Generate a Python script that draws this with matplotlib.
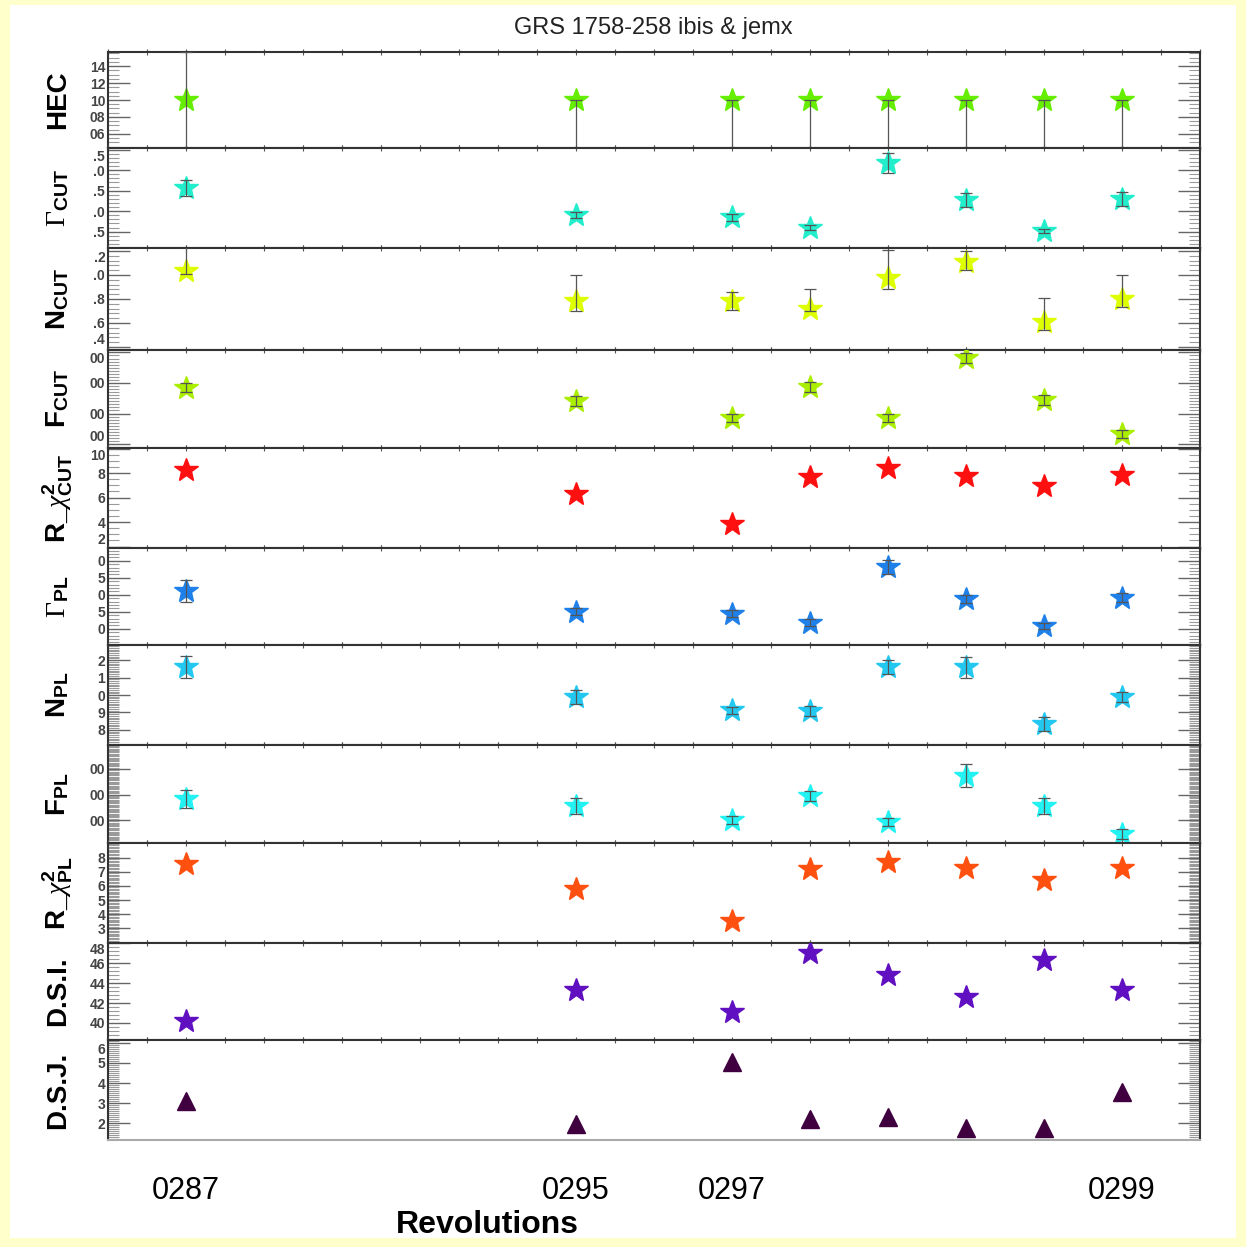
import matplotlib
matplotlib.use("Agg")
import matplotlib.pyplot as plt
from matplotlib.patches import Rectangle
from matplotlib.ticker import FixedLocator, FixedFormatter, MultipleLocator

plt.rcParams['font.family'] = ['Liberation Sans', 'DejaVu Sans']
plt.rcParams['mathtext.fontset'] = 'custom'
plt.rcParams['mathtext.rm'] = 'Liberation Serif'
plt.rcParams['mathtext.it'] = 'Liberation Serif:italic'
plt.rcParams['mathtext.bf'] = 'Liberation Sans:bold'

# ---------------- data ----------------
title = "GRS 1758-258 ibis & jemx"
obs_pos = [0, 5, 7, 8, 9, 10, 11, 12]
rev_tick_pos = [0, 5, 7, 12]
rev_tick_labels = ["0287", "0295", "0297", "0299"]
x_label = "Revolutions"

hec_val = [0.100, 0.100, 0.100, 0.100, 0.100, 0.100, 0.100, 0.100]
hec_err_lo = [0.057, 0.057, 0.057, 0.057, 0.057, 0.057, 0.057, 0.057]
hec_err_hi = [0.057, 0.0, 0.0, 0.0, 0.0, 0.0, 0.0, 0.0]

gcut_val = [2.56, 1.90, 1.85, 1.59, 3.17, 2.27, 1.51, 2.29]
gcut_err = [0.20, 0.08, 0.08, 0.06, 0.25, 0.18, 0.05, 0.17]

ncut_val = [1.03, 0.78, 0.78, 0.72, 0.975, 1.11, 0.61, 0.80]
ncut_err_lo = [0.02, 0.08, 0.07, 0.02, 0.09, 0.07, 0.07, 0.07]
ncut_err_hi = [0.20, 0.22, 0.08, 0.16, 0.23, 0.09, 0.20, 0.20]

fcut_val = [2.84, 2.41, 1.85, 2.87, 1.85, 3.82, 2.44, 1.33]
fcut_err = [0.15, 0.15, 0.12, 0.15, 0.12, 0.15, 0.15, 0.12]

rcut_val = [8.24, 6.29, 3.84, 7.67, 8.41, 7.76, 6.94, 7.84]

gpl_val = [2.06, 1.75, 1.72, 1.59, 2.41, 1.94, 1.54, 1.96]
gpl_err = [0.16, 0.05, 0.05, 0.05, 0.10, 0.06, 0.04, 0.06]

npl_val = [1.16, 0.99, 0.914, 0.909, 1.16, 1.16, 0.834, 0.99]
npl_err = [0.063, 0.04, 0.02, 0.03, 0.04, 0.06, 0.04, 0.03]

fpl_val = [1.82, 1.55, 1.00, 1.94, 0.92, 2.73, 1.55, 0.45]
fpl_err = [0.35, 0.30, 0.15, 0.20, 0.15, 0.45, 0.30, 0.20]

rpl_val = [7.57, 5.79, 3.50, 7.21, 7.71, 7.29, 6.43, 7.29]

dsi_val = [40.2, 43.3, 41.1, 47.0, 44.8, 42.6, 46.3, 43.3]

dsj_val = [3.10, 1.95, 5.05, 2.20, 2.30, 1.75, 1.75, 3.55]

panel_labels = ["HEC", r"$\Gamma_{\mathbf{CUT}}$", r"$\mathbf{N}_{\mathbf{CUT}}$",
                r"$\mathbf{F}_{\mathbf{CUT}}$", r"R_$\chi^{\mathbf{2}}_{\mathbf{CUT}}$",
                r"$\Gamma_{\mathbf{PL}}$", r"$\mathbf{N}_{\mathbf{PL}}$", r"$\mathbf{F}_{\mathbf{PL}}$",
                r"R_$\chi^{\mathbf{2}}_{\mathbf{PL}}$", "D.S.I.", "D.S.J."]

# y tick values and their (partly hidden) labels as seen in the chart
yt_hec = [0.06, 0.08, 0.10, 0.12, 0.14]; yl_hec = ["06", "08", "10", "12", "14"]
yt_gcut = [1.5, 2.0, 2.5, 3.0, 3.5]; yl_gcut = [".5", ".0", ".5", ".0", ".5"]
yt_ncut = [0.4, 0.6, 0.8, 1.0, 1.2]; yl_ncut = [".4", ".6", ".8", ".0", ".2"]
yt_fcut = [1, 2, 3, 4]; yl_fcut = ["00", "00", "00", "00"]
yt_rcut = [2, 4, 6, 8, 10]; yl_rcut = ["2", "4", "6", "8", "10"]
yt_gpl = [1.25, 1.5, 1.75, 2.0, 2.25, 2.5]; yl_gpl = ["5", "0", "5", "0", "5", "0"]
yt_npl = [0.8, 0.9, 1.0, 1.1, 1.2]; yl_npl = ["8", "9", "0", "1", "2"]
yt_fpl = [1, 2, 3]; yl_fpl = ["00", "00", "00"]
yt_rpl = [3, 4, 5, 6, 7, 8]; yl_rpl = ["3", "4", "5", "6", "7", "8"]
yt_dsi = [38, 40, 42, 44, 46, 48]; yl_dsi = ["38", "40", "42", "44", "46", "48"]
yt_dsj = [1, 2, 3, 4, 5, 6]; yl_dsj = ["1", "2", "3", "4", "5", "6"]

colors = ["#66EE00", "#22EECC", "#DDFF00", "#AAEE00", "#FF1010", "#1E80E8",
          "#22C8F0", "#22F2F2", "#FF5010", "#6010C0", "#400040"]

# ---------------- figure ----------------
W, H = 1246, 1247
fig = plt.figure(figsize=(W / 100, H / 100), dpi=100)
fig.patch.set_facecolor("#FFFFCC")
fig.add_artist(Rectangle((10 / W, 1 - 1238 / H), 1226 / W, 1233 / H,
                         transform=fig.transFigure, facecolor="white",
                         edgecolor="none", zorder=-10))

heights = [96, 100, 102, 98, 100, 97, 100, 98, 100, 97, 100]
gs = fig.add_gridspec(11, 1, left=108 / W, right=1200 / W, top=1 - 52 / H,
                      bottom=1 - 1140 / H, hspace=0, height_ratios=heights)

panels = [
    dict(v=hec_val, e=[hec_err_lo, hec_err_hi], ylim=(0.0435, 0.1565), yt=yt_hec, yl=yl_hec, minor=0.005, m="*"),
    dict(v=gcut_val, e=gcut_err, ylim=(1.10, 3.54), yt=yt_gcut, yl=yl_gcut, minor=0.1, m="*"),
    dict(v=ncut_val, e=[ncut_err_lo, ncut_err_hi], ylim=(0.375, 1.225), yt=yt_ncut, yl=yl_ncut, minor=0.04, m="*"),
    dict(v=fcut_val, e=fcut_err, ylim=(0.87, 4.08), yt=yt_fcut, yl=yl_fcut, minor=0.1, m="*"),
    dict(v=rcut_val, e=None, ylim=(1.88, 10.05), yt=yt_rcut, yl=yl_rcut, minor=0.5, m="*"),
    dict(v=gpl_val, e=gpl_err, ylim=(1.26, 2.69), yt=yt_gpl, yl=yl_gpl, minor=0.05, m="*"),
    dict(v=npl_val, e=npl_err, ylim=(0.714, 1.286), yt=yt_npl, yl=yl_npl, minor=0.01, m="*"),
    dict(v=fpl_val, e=fpl_err, ylim=(0.10, 3.94), yt=yt_fpl, yl=yl_fpl, minor=0.05, m="*"),
    dict(v=rpl_val, e=None, ylim=(1.93, 9.07), yt=yt_rpl, yl=yl_rpl, minor=0.1, m="*"),
    dict(v=dsi_val, e=None, ylim=(38.3, 48.0), yt=yt_dsi, yl=yl_dsi, minor=0.4, m="*"),
    dict(v=dsj_val, e=None, ylim=(1.15, 6.15), yt=yt_dsj, yl=yl_dsj, minor=0.1, m="^"),
]

axes = []
for i, p in enumerate(panels):
    ax = fig.add_subplot(gs[i])
    axes.append(ax)
    ax.set_xlim(-1.0, 13.0)
    ax.set_ylim(*p["ylim"])
    ms = 18 if p["m"] == "*" else 13
    ax.plot(obs_pos, p["v"], linestyle="none", marker=p["m"], markersize=ms,
            color=colors[i], markeredgecolor=colors[i], zorder=3)
    if p["e"] is not None:
        ax.errorbar(obs_pos, p["v"], yerr=p["e"], fmt="none", ecolor="#555555",
                    elinewidth=0.9, capsize=4, capthick=0.9, zorder=4)
    ax.yaxis.set_major_locator(FixedLocator(p["yt"]))
    ax.yaxis.set_major_formatter(FixedFormatter(p["yl"]))
    ax.yaxis.set_minor_locator(MultipleLocator(p["minor"]))
    ax.tick_params(axis="y", which="major", direction="in", length=16, width=1.0,
                   color="#666666", left=True, right=True, labelsize=10,
                   labelcolor="#444444", pad=2)
    ax.tick_params(axis="y", which="minor", direction="in", length=8, width=0.8,
                   color="#9A9A9A", left=True, right=True)
    y0, y1 = p["ylim"]
    for t, val in zip(ax.get_yticklabels(), p["yt"]):
        t.set_fontweight("bold")
        frac = (val - y0) / (y1 - y0)
        if frac > 0.92:
            t.set_verticalalignment("top")
        elif frac < 0.08:
            t.set_verticalalignment("bottom")
    ax.xaxis.set_minor_locator(MultipleLocator(0.5))
    last = i == len(panels) - 1
    ax.tick_params(axis="x", which="minor", direction="inout", length=5, width=0.8,
                   color="#555555", top=True, bottom=not last)
    for s in ax.spines.values():
        s.set_color("#333333")
        s.set_linewidth(1.5)
    if not last:
        ax.set_xticks([])
    else:
        ax.set_xticks(rev_tick_pos)
        ax.set_xticklabels(rev_tick_labels)
        ax.tick_params(axis="x", which="major", length=0, pad=26, labelsize=22)
        ax.spines["bottom"].set_color("#AAAAAA")
    # panel label
    bb = ax.get_position()
    fig.text(58 / W, (bb.y0 + bb.y1) / 2, panel_labels[i], rotation=90,
             ha="center", va="center", fontsize=20, fontweight="bold", color="black")

fig.text(653 / W, 1 - 28 / H, title, ha="center", va="center", fontsize=17, color="#222222")
fig.text(487 / W, 1 - 1225 / H, x_label, ha="center", va="center", fontsize=23,
         fontweight="bold", color="black")

fig.savefig("out.png", dpi=100, facecolor=fig.get_facecolor())
